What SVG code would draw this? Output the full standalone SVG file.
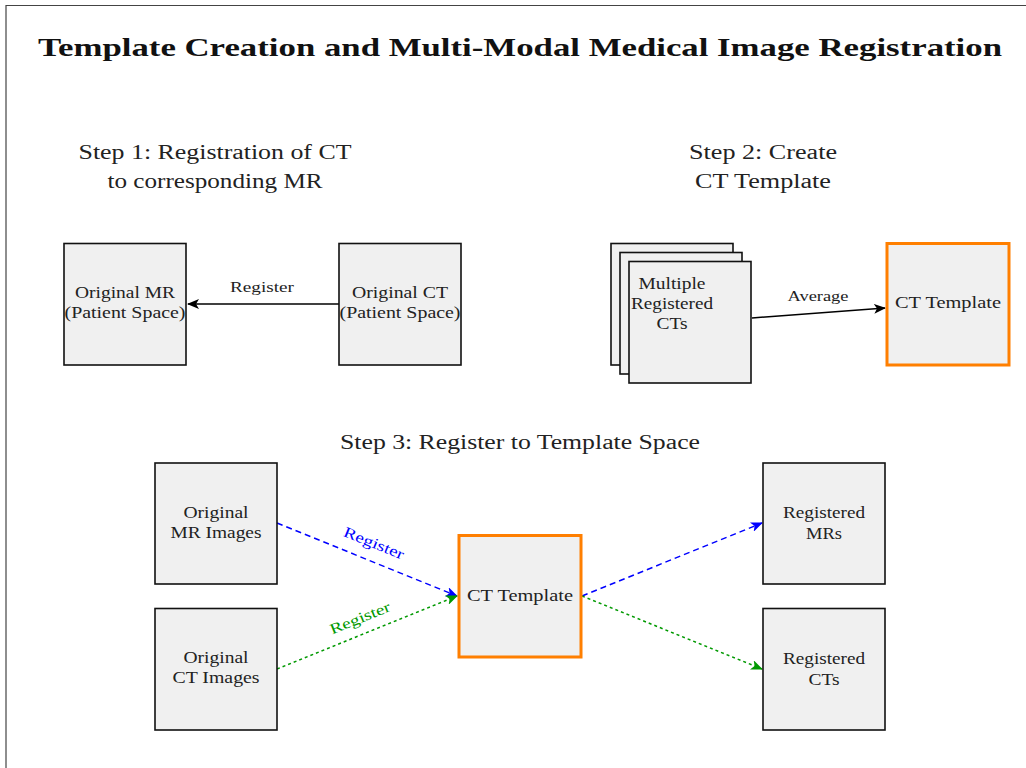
<svg xmlns="http://www.w3.org/2000/svg" width="1026" height="768" viewBox="0 0 1026 768">
<style>
text{font-family:"Liberation Serif","Times New Roman",serif;fill:#222;}
.title{font-size:26px;font-weight:bold;fill:#111;}
.step{font-size:20px;}
.nt{font-size:16px;text-anchor:middle;}
.lb{font-size:15px;text-anchor:middle;}
.box{fill:#f0f0f0;stroke:#111;stroke-width:1.6;}
.tpl{fill:#f0f0f0;stroke:#ff7f00;stroke-width:3;}
</style>
<defs>
<marker id="ak" viewBox="0 0 12 10" refX="11" refY="5" markerWidth="12" markerHeight="10" markerUnits="userSpaceOnUse" orient="auto"><path d="M0,0 L12,5 L0,10 L3,5 z" fill="#000"/></marker>
<marker id="ab" viewBox="0 0 12 10" refX="11" refY="5" markerWidth="12" markerHeight="10" markerUnits="userSpaceOnUse" orient="auto"><path d="M0,0 L12,5 L0,10 L3,5 z" fill="#0000ff"/></marker>
<marker id="ag" viewBox="0 0 12 10" refX="11" refY="5" markerWidth="12" markerHeight="10" markerUnits="userSpaceOnUse" orient="auto"><path d="M0,0 L12,5 L0,10 L3,5 z" fill="#009900"/></marker>
</defs>
<rect x="0" y="0" width="1026" height="768" fill="#fff"/>
<path d="M6,780 L6,5.5 L1040,5.5" fill="none" stroke="#444" stroke-width="1.2"/>
<text class="title" x="520" y="56" text-anchor="middle" textLength="964" lengthAdjust="spacingAndGlyphs">Template Creation and Multi-Modal Medical Image Registration</text>
<g id="labels">
<text class="step" x="215" y="159" text-anchor="middle" textLength="273" lengthAdjust="spacingAndGlyphs">Step 1: Registration of CT</text>
<text class="step" x="215" y="188" text-anchor="middle" textLength="215" lengthAdjust="spacingAndGlyphs">to corresponding MR</text>
<text class="step" x="763" y="159" text-anchor="middle" textLength="148" lengthAdjust="spacingAndGlyphs">Step 2: Create</text>
<text class="step" x="763" y="188" text-anchor="middle" textLength="136" lengthAdjust="spacingAndGlyphs">CT Template</text>
<text class="step" x="520" y="449" text-anchor="middle" textLength="360" lengthAdjust="spacingAndGlyphs">Step 3: Register to Template Space</text>
</g>
<g id="connectors">
<line x1="339" y1="304" x2="188" y2="304" stroke="#000" stroke-width="1.5" marker-end="url(#ak)"/>
<text class="lb" x="262" y="292" textLength="64" lengthAdjust="spacingAndGlyphs">Register</text>
<line x1="752" y1="318" x2="885" y2="308" stroke="#000" stroke-width="1.5" marker-end="url(#ak)"/>
<text class="lb" x="818" y="301" textLength="61" lengthAdjust="spacingAndGlyphs">Average</text>
<line x1="277" y1="523" x2="457" y2="596" stroke="#0000ff" stroke-width="1.5" stroke-dasharray="6,4" marker-end="url(#ab)"/>
<text class="lb" x="374" y="548" style="fill:#0000ff" transform="rotate(22 374 543)" textLength="64" lengthAdjust="spacingAndGlyphs">Register</text>
<line x1="277" y1="669" x2="457" y2="596" stroke="#009900" stroke-width="1.5" stroke-dasharray="3,3" marker-end="url(#ag)"/>
<text class="lb" x="360" y="623" style="fill:#009900" transform="rotate(-22 360 618)" textLength="64" lengthAdjust="spacingAndGlyphs">Register</text>
<line x1="582" y1="596" x2="762" y2="523" stroke="#0000ff" stroke-width="1.5" stroke-dasharray="6,4" marker-end="url(#ab)"/>
<line x1="582" y1="596" x2="762" y2="669" stroke="#009900" stroke-width="1.5" stroke-dasharray="3,3" marker-end="url(#ag)"/>
</g>
<g id="orig-mr">
<rect class="box" x="64" y="243.5" width="122" height="121.5"/>
<text class="nt" x="125" y="298" textLength="100" lengthAdjust="spacingAndGlyphs">Original MR</text>
<text class="nt" x="125" y="318" textLength="121" lengthAdjust="spacingAndGlyphs">(Patient Space)</text>
</g>
<g id="orig-ct">
<rect class="box" x="339" y="243.5" width="122" height="121.5"/>
<text class="nt" x="400" y="298" textLength="96" lengthAdjust="spacingAndGlyphs">Original CT</text>
<text class="nt" x="400" y="318" textLength="121" lengthAdjust="spacingAndGlyphs">(Patient Space)</text>
</g>
<g id="multi-ct">
<rect class="box" x="611" y="243.5" width="122" height="121.5"/>
<rect class="box" x="620" y="252.5" width="122" height="121.5"/>
<rect class="box" x="629" y="261.5" width="122" height="121.5"/>
<text class="nt" x="672" y="289" textLength="67" lengthAdjust="spacingAndGlyphs">Multiple</text>
<text class="nt" x="672" y="309" textLength="82" lengthAdjust="spacingAndGlyphs">Registered</text>
<text class="nt" x="672" y="329" textLength="31" lengthAdjust="spacingAndGlyphs">CTs</text>
</g>
<g id="ct-template-1">
<rect class="tpl" x="887" y="243.5" width="122" height="121.5"/>
<text class="nt" x="948" y="308" textLength="106" lengthAdjust="spacingAndGlyphs">CT Template</text>
</g>
<g id="orig-mr-images">
<rect class="box" x="155" y="463" width="122" height="121"/>
<text class="nt" x="216" y="518" textLength="65" lengthAdjust="spacingAndGlyphs">Original</text>
<text class="nt" x="216" y="538" textLength="91" lengthAdjust="spacingAndGlyphs">MR Images</text>
</g>
<g id="orig-ct-images">
<rect class="box" x="155" y="608.5" width="122" height="121.5"/>
<text class="nt" x="216" y="663" textLength="65" lengthAdjust="spacingAndGlyphs">Original</text>
<text class="nt" x="216" y="683" textLength="87" lengthAdjust="spacingAndGlyphs">CT Images</text>
</g>
<g id="ct-template-2">
<rect class="tpl" x="459" y="535.5" width="122" height="121.5"/>
<text class="nt" x="520" y="601" textLength="106" lengthAdjust="spacingAndGlyphs">CT Template</text>
</g>
<g id="reg-mrs">
<rect class="box" x="763" y="463" width="122" height="121"/>
<text class="nt" x="824" y="518" textLength="82" lengthAdjust="spacingAndGlyphs">Registered</text>
<text class="nt" x="824" y="539" textLength="36" lengthAdjust="spacingAndGlyphs">MRs</text>
</g>
<g id="reg-cts">
<rect class="box" x="763" y="608.5" width="122" height="121.5"/>
<text class="nt" x="824" y="664" textLength="82" lengthAdjust="spacingAndGlyphs">Registered</text>
<text class="nt" x="824" y="685" textLength="31" lengthAdjust="spacingAndGlyphs">CTs</text>
</g>
</svg>
